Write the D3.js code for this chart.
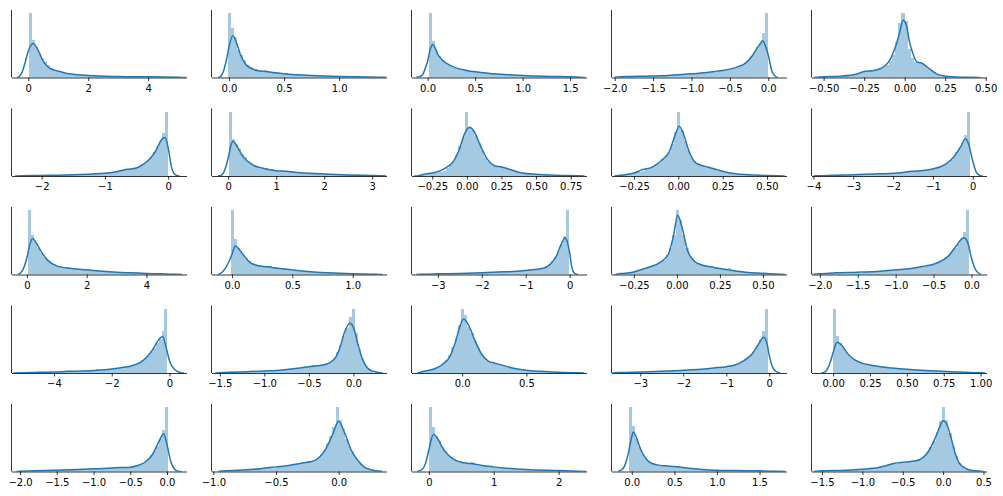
<!DOCTYPE html>
<html><head><meta charset="utf-8">
<script src="https://cdn.jsdelivr.net/npm/d3@7"></script>
<style>html,body{margin:0;padding:0;background:#fff;} svg{display:block;}</style>
</head><body>
<svg id="chart" width="1003" height="496"></svg>
<script>
// x-axis domains (per panel, row-major)
const xDomains = [
  [-0.56,5.28],[-0.159,1.43],[-0.169,1.672],[-2.042,0.238],[-0.575,0.505],
  [-2.477,0.29],[-0.348,3.30],[-0.40,0.864],[-0.377,0.61],[-4.05,0.345],
  [-0.516,5.34],[-0.17,1.28],[-3.6,0.384],[-0.38,0.637],[-2.11,0.199],
  [-5.47,0.59],[-1.593,0.371],[-0.395,0.968],[-3.67,0.40],[-0.147,1.04],
  [-2.116,0.265],[-1.015,0.382],[-0.267,2.43],[-0.238,1.817],[-1.63,0.537]
];
const tickLabels = [
  ["0","2","4"],["0.0","0.5","1.0"],["0.0","0.5","1.0","1.5"],["−2.0","−1.5","−1.0","−0.5","0.0"],["−0.50","−0.25","0.00","0.25","0.50"],
  ["−2","−1","0"],["0","1","2","3"],["−0.25","0.00","0.25","0.50","0.75"],["−0.25","0.00","0.25","0.50"],["−4","−3","−2","−1","0"],
  ["0","2","4"],["0.0","0.5","1.0"],["−3","−2","−1","0"],["−0.25","0.00","0.25","0.50"],["−2.0","−1.5","−1.0","−0.5","0.0"],
  ["−4","−2","0"],["−1.5","−1.0","−0.5","0.0"],["0.0","0.5"],["−3","−2","−1","0"],["0.00","0.25","0.50","0.75","1.00"],
  ["−2.0","−1.5","−1.0","−0.5","0.0"],["−1.0","−0.5","0.0"],["0","1","2"],["0.0","0.5","1.0","1.5"],["−1.5","−1.0","−0.5","0.0","0.5"]
];
// histogram extent [first bin start, last bin end]; bins = length of heights array
const histRanges = [
  [0.03,5.0],[-0.012,1.353],[0.01,1.6],[-1.96,0.0],[-0.53,0.45],
  [-2.35,0.0],[0.02,3.15],[-0.36,0.79],[-0.33,0.57],[-3.8,-0.06],
  [0.05,5.0],[-0.01,1.2],[-3.45,-0.02],[-0.35,0.6],[-2.0,-0.03],
  [-5.2,-0.07],[-1.5,0.22],[-0.33,0.9],[-3.5,-0.03],[0.0,0.97],
  [-2.0,0.01],[-0.95,0.3],[0.0,2.3],[-0.03,1.73],[-1.55,0.42]
];
// histogram bar heights (relative density, tallest bar = 100)
const histHeights = [
  [100,58,48,38,30,24,19,15,12,10,9,8,7,6,5.5,5,4.5,4,3.6,3.3,3,2.8,2.6,2.4,2.2,2,1.9,1.8,1.6,1.5,1.4,1.3,1.2,1.1,1.0,0.9,0.9,0.8,0.8,0.7,0.7,0.6,0.6,0.5,0.5,0.4,0.4,0.4,0.3,0.3],
  [100,77.5,63,42.6,35,27,20,16.6,14,12.5,11,10.5,11,9.5,9,8.3,7.8,7.3,6.8,6.3,5.9,5.5,5.1,4.8,4.5,4.2,3.9,3.6,3.3,3.1,2.9,2.7,2.5,2.3,2.1,1.9,1.8,1.7,1.6,1.5,1.4,1.3,1.2,1.1,1.0,0.9,0.8,0.7,0.6,0.5],
  [100,57,43,33,27,23,20,17.5,15.5,14,12.8,11.8,11,10.2,9.5,8.8,8.2,7.7,7.2,6.8,6.4,6,5.6,5.3,5,4.7,4.4,4.1,3.9,3.6,3.4,3.2,3.0,2.8,2.6,2.4,2.2,2.1,2.0,1.9,1.8,1.7,1.6,1.5,1.4,1.3,1.2,1.1,1.0,0.9],
  [1.0,1.1,1.2,1.3,1.4,1.5,1.6,1.7,1.8,1.9,2.0,2.2,2.4,2.6,2.8,3.0,3.2,3.4,3.7,4.0,4.3,4.6,4.9,5.2,5.6,6.0,6.4,6.8,7.2,7.7,8.2,8.8,9.4,10,10.8,11.5,12.3,13.3,14.5,16,17.5,20,23,27,33,40,47,54,70,100],
  [0.4,0.6,0.8,1.1,1.4,1.8,2.2,2.5,3,3.5,4.5,5.5,7,9,10,10.5,11,12,13,15,17,20,25,35,55,85,100,88,45,30,24,22,22,18,14,11,8,6,4,3,2,1.5,1,0.7,0.5,0.4,0.3,0.2,0.1,0.1],
  [0.3,0.4,0.5,0.6,0.7,0.8,0.9,1.0,1.1,1.2,1.3,1.4,1.5,1.6,1.7,1.8,1.9,2.0,2.1,2.2,2.4,2.6,2.8,3.0,3.2,3.4,3.7,4.0,4.4,4.8,5.4,6.0,6.8,7.6,8.7,9.8,10.5,11,12,13,15,18,21,25,30,37,46,54,67,100],
  [100,58,50,42,35,29,24,20,17,15,13.5,12.5,11.8,11,10.3,9.0,8.5,8.0,7.6,7.2,6.8,6.4,6.0,5.6,5.3,5.0,4.7,4.4,4.1,3.8,3.5,3.3,3.1,2.9,2.7,2.5,2.3,2.1,1.9,1.7,1.6,1.5,1.3,1.2,1.1,1.0,0.9,0.8,0.7,0.6],
  [0.5,1,1.8,2.5,3.2,4,5,6.5,8.5,13,18,24,33,46,60,100,76,72,62,52,40,30,23,18,15,14.5,14,13,11.5,10,8.5,7,5.5,4.5,3.8,3.2,2.8,2.4,2.0,1.7,1.4,1.2,1.0,0.9,0.8,0.7,0.6,0.5,0.4,0.3],
  [1,1.5,2,3,4,5.5,7,8.5,11,13,15,18,21,26,32,38,50,68,100,72,55,40,30,23,19,17,16,15,13,11.5,10,8.5,7,6,5,4.2,3.5,3,2.5,2.2,2,1.7,1.5,1.3,1.1,1,0.8,0.6,0.5,0.4],
  [0.7,0.8,0.9,1.0,1.1,1.2,1.3,1.4,1.5,1.6,1.7,1.8,1.9,2.0,2.2,2.4,2.6,2.8,3.0,3.2,3.4,3.6,3.9,4.2,4.5,4.8,5.2,5.6,6,6.5,7,7.5,8,8.6,9.2,9.8,10.5,11.5,12.5,14,15.5,18,21,25,30,37,44,52,64,100],
  [100,62,50,41,34,28,23,19,16,14,12.5,11.5,10.8,10.2,9.7,9.3,8.9,8.5,8.1,7.6,7.2,6.8,6.4,6.0,5.6,5.2,4.9,4.6,4.3,4.0,3.7,3.4,3.2,3.0,2.8,2.6,2.4,2.2,2.0,1.8,1.7,1.6,1.5,1.4,1.3,1.2,1.1,1.0,0.9,0.8],
  [100,55,42,36,30,25,21,18,16,15,14,13.5,13,12.5,12,11.5,10.5,10,9.4,8.8,8.2,7.6,7.0,6.4,5.8,5.3,4.8,4.4,4.0,3.7,3.4,3.1,2.9,2.7,2.5,2.3,2.1,2.0,1.9,1.8,1.7,1.6,1.5,1.4,1.3,1.2,1.1,1.0,0.9,0.8],
  [0.4,0.5,0.5,0.6,0.7,0.8,0.9,1.0,1.1,1.2,1.3,1.4,1.5,1.6,1.7,1.8,1.9,2.0,2.2,2.4,2.6,2.8,3.0,3.2,3.4,3.7,3.9,4.1,4.3,4.5,4.7,5.0,5.3,5.6,6.0,6.5,6.7,7.2,7.8,8.4,9.2,10.5,12.5,16,21,28,37,47,60,100],
  [0.8,1.2,1.8,2.5,3.3,4.2,5.2,6.5,8,10.5,12.5,14,16,19,23,30,42,62,100,85,62,42,29,22,18,16,15,14,13,12,11,10,9,8.5,10.5,7,6,5,4.4,3.8,3.3,2.9,2.5,2.2,1.9,1.6,1.3,1.0,0.8,0.6],
  [1.3,1.4,1.5,1.6,1.7,1.8,2.0,2.1,2.2,2.3,2.5,2.7,2.9,3.1,3.3,3.5,3.7,3.9,4.1,4.4,4.7,5.0,5.3,5.7,6.1,6.5,7,7.5,8,8.5,9.1,9.8,10.5,11.2,12,13,14,15,16.5,18,20,23,26,31,36,42,48,55,66,100],
  [0.7,0.8,0.9,1.0,1.1,1.2,1.3,1.4,1.5,1.6,1.7,1.8,1.9,2.0,2.2,2.4,2.6,2.8,3.0,3.2,3.4,3.6,3.8,4.0,4.3,4.6,6.0,5.2,5.6,6.0,6.4,6.9,7.4,7.9,8.5,9.2,10,11,12.3,14,16.5,19.5,23,27,33,39,46,53,65,100],
  [0.6,0.8,0.9,1.0,1.2,1.3,1.5,1.6,1.8,2.0,2.2,2.4,2.6,2.8,3.0,3.3,3.6,3.9,4.2,4.6,5,5.5,6,6.5,7,7.6,8.3,9,9.5,10.5,13,12.5,12.5,13,14,16,19,24,32,44,58,70,87,100,62,38,22,12,6,3],
  [1.5,2.5,3.5,4.8,6.5,8.5,11,15,20,28,40,55,75,100,91,72,63,50,39,30,23,19,17,15.5,14.5,13,11.5,10,8.5,7.5,6.5,5.8,5.2,4.6,4.0,3.6,3.2,2.8,2.5,2.2,2.0,1.7,1.5,1.3,1.1,1.0,0.8,0.7,0.5,0.4],
  [0.9,1.0,1.1,1.2,1.3,1.4,1.5,1.6,1.7,1.8,1.9,2.0,2.1,2.2,2.4,2.6,2.8,3.0,3.2,3.4,3.6,3.8,4.1,4.4,4.7,5.0,5.4,5.8,6.2,6.6,7,7.5,8,8.6,9.2,9.8,10.5,11.5,12.5,13.5,15.5,18,20.5,24,29,35,43,52,66,100],
  [100,58,46,39,33,28,24,21,19,17,15.5,14,13,12.3,11.7,11,10.4,9.8,9.2,8.7,8.2,7.7,7.3,6.9,6.5,6.1,5.8,5.5,5.2,4.9,4.6,4.3,4.0,3.8,3.6,3.4,3.2,3.0,2.8,2.6,2.4,2.2,2.0,1.9,1.8,1.6,1.5,1.3,1.2,1.0],
  [0.7,0.8,0.9,1.0,1.1,1.2,1.3,1.4,1.5,1.6,1.7,1.8,1.9,2.0,2.2,2.4,2.6,2.8,3.0,3.2,3.4,3.6,3.8,4.0,4.2,4.4,4.6,4.8,5.0,5.2,5.4,5.6,5.8,6.0,6.2,6.5,6.8,7.3,8,9,10.5,12.5,15,19,25,32,40,50,64,100],
  [1.2,1.4,1.6,1.8,2.0,2.2,2.4,2.6,2.8,3.1,3.4,3.7,4.0,4.4,4.8,5.2,5.7,6.2,6.8,7.4,8.0,8.7,9.3,10,11,12,13,14.5,16,16.5,18,21,26,34,44,55,70,100,80,66,50,40,30,22,15,10,6,4,2.5,1.5],
  [100,70,56,47,38,32,26,22,19,16.5,15,14,13.5,14,14.5,12,11,10.2,9.5,8.8,8.2,7.6,7.0,6.5,6.0,5.6,5.2,4.8,4.5,4.2,3.9,3.6,3.4,3.2,3.0,2.8,2.6,2.4,2.2,2.0,1.9,1.8,1.7,1.6,1.5,1.4,1.3,1.2,1.1,1.0],
  [100,71,52,38,28,21,16,13,11.5,10.5,10,9.5,9.2,9,8.7,8.5,8,7.3,6.7,6.1,5.5,5.0,4.5,4.1,3.7,3.4,3.1,2.9,2.7,2.5,2.3,2.2,2.1,2.0,1.9,1.8,1.7,1.6,1.5,1.4,1.3,1.2,1.15,1.1,1.0,0.9,0.8,0.7,0.6,0.5],
  [0.8,0.9,1.0,1.1,1.2,1.3,1.5,1.7,1.9,2.1,2.3,2.5,2.7,3.0,3.3,3.7,4.2,4.8,5.5,6.3,7.5,8.5,9.5,11,11.5,12.5,13,14,16,15,18,20,19,24,30,38,48,62,78,100,80,60,40,24,13,7,4,2.5,1.5,1]
];
// KDE curves: [x, density] (same relative units)
const kdeCurves = [
  [[-0.38,0],[-0.3,1.5],[-0.2,9],[-0.1,24],[-0.04,35],[0.07,49],[0.16,53],[0.3,45],[0.48,27],[0.65,16.6],[0.87,11.4],[1.09,8.8],[1.31,6.2],[1.6,4.4],[2.0,3.1],[3.0,1.6],[4.0,1.0],[5.0,0.3],[5.3,0]],
  [[-0.097,0],[-0.075,2],[-0.052,8.8],[-0.021,29.6],[0,47.8],[0.034,65],[0.07,53],[0.1,37.4],[0.145,21.8],[0.206,14],[0.266,10.4],[0.335,9.4],[0.417,7.3],[0.5,5.7],[0.628,4.2],[0.75,3.1],[1.0,1.6],[1.17,1],[1.35,0.5],[1.43,0.2]],
  [[-0.12,0],[-0.06,3],[-0.02,16],[0.0,25],[0.03,45],[0.055,51.5],[0.08,46],[0.1,38],[0.15,28],[0.2,22],[0.3,15],[0.4,11.4],[0.5,8.8],[0.6,7.3],[0.7,5.7],[0.8,4.7],[1.0,3.1],[1.2,2],[1.4,1.5],[1.6,0.5],[1.66,0]],
  [[-2.0,0.3],[-1.96,0.8],[-1.8,1.5],[-1.6,2],[-1.4,2.6],[-1.2,4.2],[-1.0,5.7],[-0.8,7.8],[-0.7,9.4],[-0.6,11],[-0.5,13],[-0.4,16.6],[-0.3,22],[-0.2,35],[-0.15,45],[-0.1,53],[-0.075,57],[-0.04,50],[0,35],[0.05,9],[0.1,1],[0.13,0]],
  [[-0.56,0],[-0.5,1],[-0.4,2],[-0.3,5],[-0.25,9.5],[-0.2,10.5],[-0.15,14],[-0.1,24],[-0.05,53],[-0.03,71],[-0.01,89],[0.01,82],[0.03,55],[0.05,38],[0.077,24],[0.1,23],[0.13,18],[0.15,14],[0.2,5.2],[0.25,2],[0.3,1],[0.4,0.2],[0.47,0]],
  [[-2.42,0],[-2.3,0.4],[-2.0,0.8],[-1.8,1.2],[-1.5,2],[-1.2,3.1],[-1.0,4.2],[-0.8,7],[-0.7,9.5],[-0.6,11],[-0.5,12.5],[-0.4,17.7],[-0.3,25.5],[-0.2,38.5],[-0.1,57],[-0.05,60],[0,44],[0.05,15],[0.1,3],[0.15,0.3],[0.18,0]],
  [[-0.22,0],[-0.15,1],[-0.1,4.7],[-0.05,14],[0,28],[0.05,46],[0.1,54],[0.2,44],[0.3,31],[0.5,17.7],[0.7,12.5],[1.0,8.3],[1.2,7.3],[1.5,5.2],[2.0,3.1],[2.5,1.6],[3.0,0.6],[3.2,0.2],[3.3,0]],
  [[-0.38,0],[-0.35,0.5],[-0.3,3],[-0.25,4.7],[-0.2,7.3],[-0.15,13],[-0.1,22],[-0.05,44],[-0.02,64],[0.02,76],[0.05,70],[0.1,46],[0.15,25.5],[0.2,16],[0.25,14],[0.3,11],[0.35,7.3],[0.4,4.7],[0.5,2.6],[0.6,1.5],[0.7,0.8],[0.85,0]],
  [[-0.36,0],[-0.3,2],[-0.25,4.7],[-0.2,10],[-0.15,13.5],[-0.1,23],[-0.05,38.5],[-0.02,62],[0.005,77.5],[0.03,64.5],[0.06,38.5],[0.1,20],[0.15,15],[0.2,11.4],[0.25,7.3],[0.3,4.2],[0.4,2],[0.5,0.8],[0.6,0]],
  [[-4.0,0],[-3.9,0.3],[-3.5,1],[-3.0,2],[-2.5,3.1],[-2.0,4.2],[-1.5,7.3],[-1.3,8.3],[-1.0,11],[-0.7,17.7],[-0.5,28],[-0.3,46],[-0.18,58],[-0.1,49],[0,23],[0.1,4.7],[0.2,0.5],[0.25,0]],
  [[-0.3,0],[-0.2,3],[-0.1,11],[0,26],[0.1,47],[0.19,56],[0.3,50],[0.5,34],[0.7,22],[1.0,13.4],[1.5,9.3],[2.0,7.2],[2.5,5.2],[3.0,3.6],[3.5,2.6],[4.0,1.6],[4.5,1.0],[5.0,0.3],[5.2,0]],
  [[-0.12,0],[-0.1,1],[-0.05,11],[0,31.5],[0.027,44.5],[0.06,39],[0.1,29],[0.15,18.6],[0.2,14.5],[0.3,11.9],[0.4,9.3],[0.5,7.2],[0.6,5.2],[0.7,3.6],[0.8,2.6],[1.0,1.2],[1.2,0.4],[1.25,0]],
  [[-3.5,0],[-3.4,0.3],[-3.0,1],[-2.5,1.5],[-2.0,2.6],[-1.5,4.1],[-1.2,5.1],[-1.0,6.1],[-0.8,7.7],[-0.6,9.7],[-0.5,12.8],[-0.4,19],[-0.3,29],[-0.2,45.6],[-0.107,56.8],[-0.05,50],[0,34],[0.05,11],[0.1,2.6],[0.15,0.5],[0.2,0]],
  [[-0.36,0],[-0.35,0.5],[-0.3,2],[-0.25,4],[-0.2,8.3],[-0.15,12.4],[-0.1,18.6],[-0.05,31.5],[-0.02,60],[0.005,92],[0.03,73],[0.06,39],[0.1,21],[0.15,14.5],[0.2,11.9],[0.25,9.3],[0.3,7.2],[0.35,5.2],[0.4,3.6],[0.5,2],[0.6,0.5],[0.63,0]],
  [[-2.1,0],[-2.0,1.2],[-1.8,2.6],[-1.5,3.6],[-1.2,5.2],[-1.0,7.2],[-0.8,9.3],[-0.7,11.4],[-0.6,13.4],[-0.5,16],[-0.4,21],[-0.3,29],[-0.2,44.5],[-0.1,57],[-0.05,50],[0,26],[0.05,8.3],[0.1,1.5],[0.13,0]],
  [[-5.4,0],[-5.0,0.5],[-4.5,1],[-4.0,1.6],[-3.5,2.6],[-3.0,3.1],[-2.5,4.2],[-2.0,6.2],[-1.6,8.8],[-1.3,11.4],[-1.0,16.6],[-0.8,24],[-0.6,35],[-0.4,50],[-0.24,56.7],[-0.1,37],[0,19],[0.2,4.7],[0.4,0.5],[0.5,0]],
  [[-1.55,0],[-1.4,1],[-1.2,2],[-1.0,3.1],[-0.8,4.7],[-0.7,6.2],[-0.6,7.8],[-0.5,9.9],[-0.4,11.4],[-0.3,14],[-0.2,24.4],[-0.15,40],[-0.1,63.4],[-0.04,77.5],[0,71],[0.05,45],[0.1,22],[0.15,9],[0.2,3.6],[0.3,0.5],[0.33,0]],
  [[-0.35,0],[-0.3,2.6],[-0.2,7.8],[-0.15,14],[-0.1,24.4],[-0.05,50],[-0.02,71],[0.01,84],[0.05,74],[0.1,50],[0.15,29.6],[0.2,19],[0.25,15.6],[0.3,13],[0.35,9.9],[0.4,7.3],[0.5,4.2],[0.6,2.6],[0.7,1.5],[0.8,0.8],[0.9,0.3],[0.95,0]],
  [[-3.65,0],[-3.5,0.6],[-3.0,1.6],[-2.5,2.6],[-2.0,4.2],[-1.6,5.7],[-1.3,7.8],[-1.0,9.9],[-0.8,12.5],[-0.6,19],[-0.4,29.6],[-0.25,45],[-0.13,55.6],[-0.05,45],[0,27],[0.1,6.2],[0.2,1],[0.25,0]],
  [[-0.08,0],[-0.05,2.6],[-0.02,16.6],[0,32],[0.026,47.8],[0.05,45],[0.1,29.6],[0.15,20],[0.2,15],[0.25,12.5],[0.3,10.4],[0.4,7.8],[0.5,5.7],[0.6,4.2],[0.7,3.1],[0.8,2],[0.9,1.2],[1.0,0.4],[1.03,0]],
  [[-2.05,0],[-2.0,0.5],[-1.8,1],[-1.5,2],[-1.2,3.1],[-1.0,4.1],[-0.8,5.1],[-0.7,5.7],[-0.6,6.2],[-0.5,6.7],[-0.4,9.3],[-0.3,14.4],[-0.2,26],[-0.1,49],[-0.046,58.7],[0,41.7],[0.05,16],[0.1,4],[0.15,0.5],[0.2,0]],
  [[-0.96,0],[-0.95,0.5],[-0.8,2],[-0.7,3],[-0.6,5],[-0.5,7.2],[-0.4,9.3],[-0.3,12.9],[-0.25,14.4],[-0.2,16.5],[-0.15,23],[-0.1,36],[-0.05,56.7],[0,78],[0.05,59],[0.1,33.5],[0.15,18],[0.2,7.7],[0.25,3],[0.3,1],[0.35,0]],
  [[-0.18,0],[-0.1,3.6],[-0.05,12.9],[0,33.5],[0.07,57.7],[0.15,49],[0.2,38.6],[0.3,25.7],[0.4,18],[0.5,14.4],[0.6,12.9],[0.7,11.8],[0.8,9.8],[1.0,7.2],[1.2,5.2],[1.5,3.1],[2.0,1.5],[2.3,0.5],[2.43,0]],
  [[-0.16,0],[-0.1,5],[-0.05,23],[0,54],[0.016,61.5],[0.05,54],[0.1,36],[0.15,23],[0.2,15.5],[0.3,10.3],[0.4,8.8],[0.5,7.8],[0.6,6.2],[0.7,4.7],[0.8,3.6],[1.0,2],[1.2,1.5],[1.5,1],[1.7,0.5],[1.8,0]],
  [[-1.6,0],[-1.5,1],[-1.2,2],[-1.0,3.6],[-0.8,6.2],[-0.7,9.3],[-0.6,12.9],[-0.5,14.4],[-0.4,15.5],[-0.3,18],[-0.2,28],[-0.1,51.5],[-0.05,67],[0,79],[0.05,72],[0.1,51.5],[0.15,28],[0.2,12.9],[0.3,3.6],[0.4,1],[0.5,0]]
];
const yMax = 105;

const svg = d3.select("#chart");
const W = 175, H = 67.5;
const blue = "#1f77b4";

for (let i = 0; i < 25; i++) {
  const r = Math.floor(i / 5), c = i % 5;
  const left = 11.5 + 200 * c, top = 10 + 98.5 * r, bottom = top + H;
  const x = d3.scaleLinear().domain(xDomains[i]).range([left, left + W]);
  const y = d3.scaleLinear().domain([0, yMax]).range([bottom, top]);
  const g = svg.append("g");
  const clipId = "clip" + i;
  g.append("clipPath").attr("id", clipId).append("rect")
    .attr("x", left).attr("y", top - 2).attr("width", W).attr("height", H + 2);
  const plot = g.append("g").attr("clip-path", `url(#${clipId})`);

  const hr = histRanges[i], hh = histHeights[i];
  const bw = (hr[1] - hr[0]) / hh.length;
  plot.selectAll("rect.bar").data(hh).join("rect")
    .attr("class", "bar")
    .attr("x", (d, k) => x(hr[0] + k * bw))
    .attr("width", (d, k) => x(hr[0] + (k + 1) * bw) - x(hr[0] + k * bw))
    .attr("y", d => y(d))
    .attr("height", d => y(0) - y(d))
    .attr("fill", blue).attr("fill-opacity", 0.4)
    .attr("shape-rendering", "crispEdges");

  const line = d3.line().x(d => x(d[0])).y(d => y(d[1])).curve(d3.curveMonotoneX);
  plot.append("path").datum(kdeCurves[i]).attr("d", line)
    .attr("fill", "none").attr("stroke", blue).attr("stroke-width", 1.5)
    .attr("stroke-linejoin", "round");

  const ticks = tickLabels[i].map(s => +s.replace("−", "-"));
  const axis = d3.axisBottom(x).tickValues(ticks)
    .tickFormat((d, k) => tickLabels[i][k]).tickSize(3.5).tickPadding(3.5).tickSizeOuter(0);
  const ax = g.append("g").attr("transform", `translate(0,${bottom})`).call(axis);
  ax.select(".domain").attr("stroke", "#000").attr("stroke-width", 0.8);
  ax.selectAll(".tick line").attr("stroke", "#000").attr("stroke-width", 0.8);
  ax.selectAll(".tick text").attr("fill", "#000")
    .style("font-family", "'DejaVu Sans', sans-serif").style("font-size", "10px");

  g.append("line").attr("x1", left).attr("x2", left).attr("y1", top).attr("y2", bottom)
    .attr("stroke", "#000").attr("stroke-width", 0.8);
}
</script>
</body></html>
